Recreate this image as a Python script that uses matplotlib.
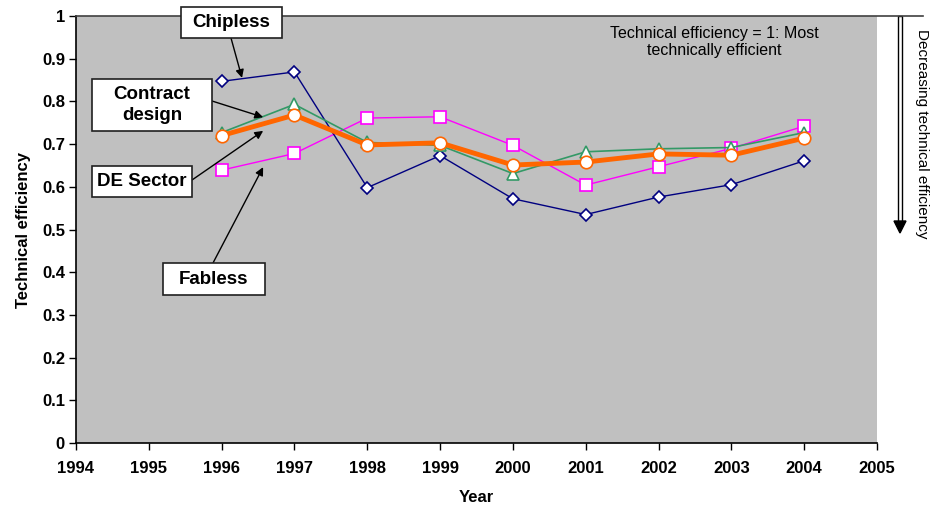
import matplotlib
matplotlib.use("Agg")
import matplotlib.pyplot as plt
from matplotlib.patches import Rectangle, Polygon
from matplotlib.lines import Line2D

years = [1996, 1997, 1998, 1999, 2000, 2001, 2002, 2003, 2004]
chipless = [0.847, 0.869, 0.598, 0.673, 0.572, 0.535, 0.576, 0.605, 0.661]
contract = [0.727, 0.793, 0.704, 0.697, 0.631, 0.682, 0.689, 0.692, 0.727]
de_sector = [0.720, 0.768, 0.698, 0.703, 0.651, 0.658, 0.677, 0.674, 0.714]
fabless = [0.639, 0.678, 0.761, 0.764, 0.697, 0.604, 0.647, 0.690, 0.742]

xticks = list(range(1994, 2006))
yticks = [0, 0.1, 0.2, 0.3, 0.4, 0.5, 0.6, 0.7, 0.8, 0.9, 1]
ytick_labels = ['0', '0.1', '0.2', '0.3', '0.4', '0.5', '0.6', '0.7',
                '0.8', '0.9', '1']

plt.rcParams['font.family'] = ['Liberation Sans', 'DejaVu Sans']

W, H = 934, 509
fig = plt.figure(figsize=(W / 100, H / 100), dpi=100)


def fx(px):
    return px / W


def fy(py):
    return 1 - py / H


ax = fig.add_axes([fx(76), fy(443), fx(877) - fx(76), fy(16) - fy(443)])
ax.set_facecolor('#c0c0c0')

ax.plot(years, fabless, color='#ff00ff', lw=1, marker='s', ms=8,
        mfc='white', mec='#ff00ff', mew=1.2, zorder=3)
ax.plot(years, chipless, color='#000080', lw=1, marker='D', ms=6,
        mfc='white', mec='#000080', mew=1.2, zorder=3)
ax.plot(years, contract, color='#339966', lw=1.2, marker='^', ms=8,
        mfc='white', mec='#339966', mew=1.2, zorder=4)
ax.plot(years, de_sector, color='#ff6600', lw=3.5, marker='o', ms=9,
        mfc='white', mec='#ff6600', mew=1.2, zorder=5)

ax.set_xlim(1994, 2005)
ax.set_ylim(0, 1)
ax.set_xticks(xticks)
ax.set_yticks(yticks)
ax.set_xticklabels([str(x) for x in xticks], fontweight='bold', fontsize=12)
ax.set_yticklabels(ytick_labels, fontweight='bold', fontsize=12)
ax.tick_params(direction='out', length=5, width=1, pad=8)
ax.tick_params(axis='y', pad=3)
for s in ['top', 'right']:
    ax.spines[s].set_visible(False)
ax.spines['left'].set_linewidth(1.2)
ax.spines['bottom'].set_linewidth(1.2)
ax.set_xlabel('Year', fontweight='bold', fontsize=12, labelpad=10)
ax.set_ylabel('Technical efficiency', fontweight='bold', fontsize=12, labelpad=8)

# top border running over the arrow
fig.add_artist(Line2D([fx(76), fx(923)], [fy(16), fy(16)], color='#404040',
                      lw=1.2, transform=fig.transFigure))

fig.text(fx(714), fy(26), 'Technical efficiency = 1: Most\ntechnically efficient',
         ha='center', va='top', fontsize=11.5, linespacing=1.2)

# series labels: (text, box centre px, box size px, arrow start px, arrow tip data)
labels = [
    ('Chipless', (231.5, 22.5), (101, 31), (231, 38), (1996.28, 0.855)),
    ('Contract\ndesign', (152, 105), (120, 52), (212, 101), (1996.57, 0.763)),
    ('DE Sector', (142, 181.5), (100, 31), (192, 180), (1996.57, 0.731)),
    ('Fabless', (214, 279), (102, 32), (213, 263), (1996.57, 0.646)),
]
for text, (cx, cy), (bw, bh), (sx, sy), tip in labels:
    fig.add_artist(Rectangle((fx(cx - bw / 2), fy(cy + bh / 2)), fx(bw),
                             fy(0) - fy(bh), fc='white', ec='#202020', lw=1.2,
                             transform=fig.transFigure, zorder=10))
    fig.text(fx(cx), fy(cy), text, ha='center', va='center', fontsize=13.5,
             fontweight='bold', linespacing=1.25, zorder=11)
    ax.annotate('', xy=tip, xycoords='data', xytext=(fx(sx), fy(sy)),
                textcoords='figure fraction',
                arrowprops=dict(arrowstyle='-|>', color='black', lw=1,
                                mutation_scale=12, shrinkA=0, shrinkB=0),
                zorder=8)

# "decreasing" arrow on the right
fig.add_artist(Rectangle((fx(898), fy(223)), fx(4), fy(16) - fy(223),
                         fc='white', ec='black', lw=1,
                         transform=fig.transFigure))
fig.add_artist(Polygon([(fx(894), fy(221)), (fx(906), fy(221)),
                        (fx(900), fy(233))], closed=True, fc='black',
                       ec='black', transform=fig.transFigure))
fig.text(fx(922), fy(133.5), 'Decreasing technical efficiency', rotation=270,
         ha='center', va='center', fontsize=11)

fig.savefig('out.png', dpi=100)
